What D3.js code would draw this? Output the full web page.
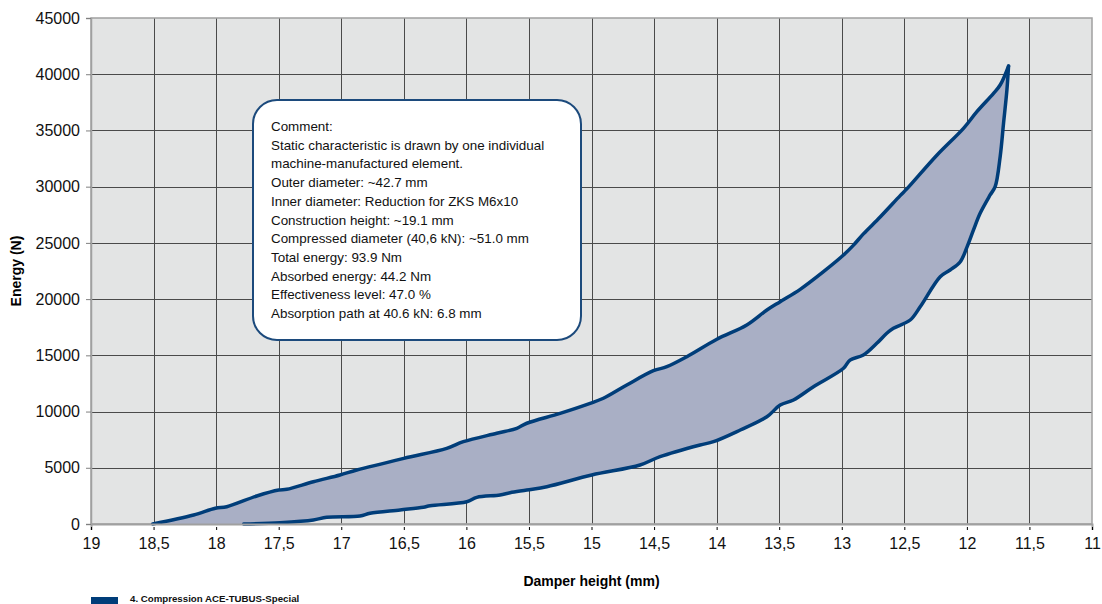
<!DOCTYPE html>
<html>
<head>
<meta charset="utf-8">
<script src="https://cdn.jsdelivr.net/npm/d3@7"></script>
<style>
  body { margin: 0; background: #fff; }
  svg { display: block; font-family: "Liberation Sans", Arial, sans-serif; }
</style>
</head>
<body>
<svg id="chart" width="1102" height="604"></svg>
<script>
// Loading curve (compression): damper height (mm) and force (N)
const loadHeight = [18.507, 18.18, 18.006, 17.915, 17.675, 17.50, 17.435, 17.223, 17.01, 16.876,
  16.50, 16.157, 16.024, 15.757, 15.597, 15.517, 15.251, 15.011, 14.905, 14.718, 14.505, 14.398,
  14.238, 13.998, 13.759, 13.598, 13.492, 13.332, 13.146, 12.986, 12.906, 12.827, 12.693, 12.533,
  12.48, 12.24, 12.027, 11.92, 11.787, 11.734, 11.667];
const loadEnergy = [0, 800, 1400, 1540, 2490, 3020, 3090, 3760, 4360, 4800,
  5840, 6730, 7320, 8070, 8510, 8960, 9840, 10730, 11180, 12360, 13630, 13990,
  14880, 16430, 17700, 19030, 19770, 20870, 22440, 23920, 24800, 25800, 27300, 29200,
  29800, 32800, 35190, 36670, 38300, 39040, 40730];

// Unloading curve (release)
const unloadHeight = [11.667, 11.680, 11.707, 11.734, 11.774, 11.814, 11.894, 11.947, 12.0, 12.054,
  12.134, 12.213, 12.373, 12.453, 12.587, 12.640, 12.72, 12.827, 12.934, 12.986, 13.226, 13.386,
  13.492, 13.598, 13.811, 14.025, 14.132, 14.452, 14.612, 14.998, 15.357, 15.517, 15.651, 15.731,
  15.917, 15.997, 16.29, 16.344, 16.53, 16.77, 16.85, 17.116, 17.223, 17.489, 17.78];
const unloadEnergy = [40730, 38600, 35630, 32670, 30000, 29260, 27630, 26150, 24600, 23300,
  22590, 21990, 19320, 18140, 17400, 16960, 16070, 15030, 14580, 13850, 12210, 11030,
  10580, 9540, 8360, 7320, 7030, 5990, 5250, 4360, 3320, 3020, 2780, 2580,
  2370, 1980, 1630, 1490, 1250, 950, 710, 600, 360, 120, 0];

const xTicks = [19, 18.5, 18, 17.5, 17, 16.5, 16, 15.5, 15, 14.5, 14, 13.5, 13, 12.5, 12, 11.5, 11];
const yTicks = [0, 5000, 10000, 15000, 20000, 25000, 30000, 35000, 40000, 45000];

const commentLines = [
  "Comment:",
  "Static characteristic is drawn by one individual",
  "machine-manufactured element.",
  "Outer diameter: ~42.7 mm",
  "Inner diameter: Reduction for ZKS M6x10",
  "Construction height: ~19.1 mm",
  "Compressed diameter (40,6 kN): ~51.0 mm",
  "Total energy: 93.9 Nm",
  "Absorbed energy: 44.2 Nm",
  "Effectiveness level: 47.0 %",
  "Absorption path at 40.6 kN: 6.8 mm"
];
const seriesName = "4. Compression ACE-TUBUS-Special";

const LINE_COLOR = "#003d79";
const FILL_COLOR = "#a9afc5";

const svg = d3.select("#chart");
const x = d3.scaleLinear().domain([19, 11]).range([91, 1092]);
const y = d3.scaleLinear().domain([0, 45000]).range([524, 18]);

// plot background
svg.append("rect")
  .attr("x", x(19)).attr("y", y(45000))
  .attr("width", x(11) - x(19)).attr("height", y(0) - y(45000))
  .attr("fill", "#e3e4e4");

// grid
const grid = svg.append("g").attr("stroke", "#4a4a4a").attr("stroke-width", 1).attr("shape-rendering", "crispEdges");
grid.selectAll("line.v").data(xTicks.slice(1, -1)).join("line")
  .attr("x1", d => Math.round(x(d)) + 0.5).attr("x2", d => Math.round(x(d)) + 0.5)
  .attr("y1", y(45000)).attr("y2", y(0));
grid.selectAll("line.h").data(yTicks.slice(1, -1)).join("line")
  .attr("y1", d => Math.round(y(d)) + 0.5).attr("y2", d => Math.round(y(d)) + 0.5)
  .attr("x1", x(19)).attr("x2", x(11));

// frame
svg.append("rect")
  .attr("x", x(19)).attr("y", y(45000))
  .attr("width", x(11) - x(19)).attr("height", y(0) - y(45000))
  .attr("fill", "none").attr("stroke", "#a0a0a0").attr("stroke-width", 1.5);

// filled hysteresis area
const loadPts = loadHeight.map((h, i) => [h, loadEnergy[i]]);
const unloadPts = unloadHeight.map((h, i) => [h, unloadEnergy[i]]);
const line = d3.line().x(d => x(d[0])).y(d => y(d[1])).curve(d3.curveCatmullRom.alpha(0.5));
svg.append("path")
  .attr("d", line(loadPts.concat(unloadPts.slice(1))) + "Z")
  .attr("fill", FILL_COLOR);

// curves
[loadPts, unloadPts].forEach(pts => {
  svg.append("path")
    .attr("d", line(pts))
    .attr("fill", "none")
    .attr("stroke", LINE_COLOR)
    .attr("stroke-width", 3.5)
    .attr("stroke-linejoin", "round")
    .attr("stroke-linecap", "round");
});

// axes
const xAxis = d3.axisBottom(x).tickValues(xTicks).tickSize(6).tickPadding(8)
  .tickFormat(d => String(d).replace(".", ","));
const gx = svg.append("g").attr("transform", `translate(0,${y(0)})`).call(xAxis);
gx.select(".domain").attr("stroke", "#a0a0a0").attr("stroke-width", 2);
gx.selectAll(".tick line").attr("stroke", "#000").attr("y1", 3);
gx.selectAll(".tick text").attr("font-size", 16).attr("fill", "#111").attr("font-family", "Liberation Sans, Arial, sans-serif");

const yAxis = d3.axisLeft(y).tickValues(yTicks).tickSize(5).tickPadding(6).tickFormat(d => String(d));
const gy = svg.append("g").attr("transform", `translate(${x(19)},0)`).call(yAxis);
gy.select(".domain").attr("stroke", "#a0a0a0").attr("stroke-width", 1.5);
gy.selectAll(".tick line").attr("stroke", "#808080");
gy.selectAll(".tick text").attr("font-size", 16).attr("fill", "#111").attr("font-family", "Liberation Sans, Arial, sans-serif");

// axis titles
svg.append("text")
  .attr("transform", `translate(21,${(y(0) + y(45000)) / 2}) rotate(-90)`)
  .attr("text-anchor", "middle")
  .attr("font-size", 14).attr("font-weight", "bold")
  .text("Energy (N)");
svg.append("text")
  .attr("x", (x(19) + x(11)) / 2).attr("y", 586)
  .attr("text-anchor", "middle")
  .attr("font-size", 14).attr("font-weight", "bold")
  .text("Damper height (mm)");

// comment box
const box = svg.append("g");
box.append("rect")
  .attr("x", 253).attr("y", 100).attr("width", 328).attr("height", 240)
  .attr("rx", 24).attr("ry", 24)
  .attr("fill", "#fff").attr("stroke", "#1c4a7c").attr("stroke-width", 2);
box.selectAll("text").data(commentLines).join("text")
  .attr("x", 271).attr("y", (d, i) => 131 + i * 18.7)
  .attr("font-size", 13.4).attr("fill", "#111")
  .text(d => d);

// legend
svg.append("rect").attr("x", 91).attr("y", 597).attr("width", 27).attr("height", 8).attr("fill", LINE_COLOR);
svg.append("text").attr("x", 130).attr("y", 602)
  .attr("font-size", 9.7).attr("font-weight", "bold").attr("fill", "#111")
  .text(seriesName);
</script>
</body>
</html>
